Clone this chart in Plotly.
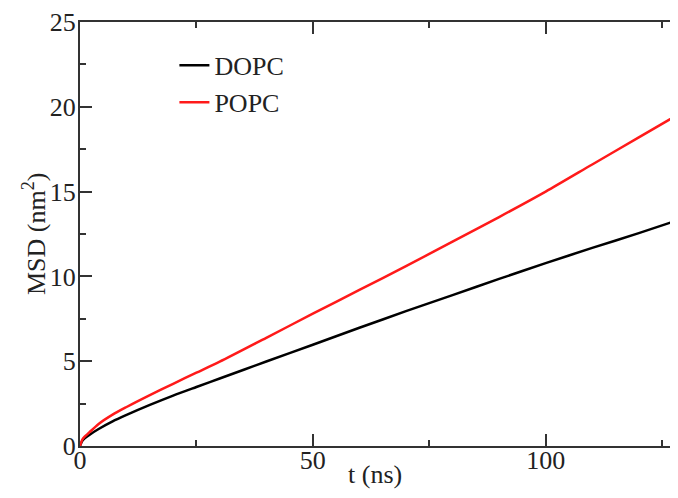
import plotly.graph_objects as go

t = [0, 0.5, 1, 2, 4, 7, 10, 15, 20, 25, 30, 40, 50, 60, 70, 80, 90, 100, 110, 120, 128.2]
dopc = [0, 0.3, 0.45, 0.65, 1.0, 1.45, 1.83, 2.42, 2.97, 3.48, 3.98, 4.98, 5.97, 6.97, 7.95, 8.9, 9.85, 10.78, 11.68, 12.55, 13.3]
popc = [0, 0.38, 0.55, 0.8, 1.3, 1.85, 2.3, 3.0, 3.67, 4.32, 4.97, 6.38, 7.8, 9.2, 10.6, 12.05, 13.5, 15.0, 16.6, 18.2, 19.5]

font = "Liberation Serif, Times New Roman, serif"
fs = 26

fig = go.Figure()
fig.add_trace(go.Scatter(x=t, y=dopc, mode="lines", name="DOPC",
                         line=dict(color="black", width=2.5, shape="spline", smoothing=0.8)))
fig.add_trace(go.Scatter(x=t, y=popc, mode="lines", name="POPC",
                         line=dict(color="#ff1a1a", width=2.5, shape="spline", smoothing=0.8)))

fig.update_layout(
    width=662, height=482,
    margin=dict(l=72, r=0, t=14, b=44),
    paper_bgcolor="white", plot_bgcolor="white",
    font=dict(family=font, size=fs, color="#222"),
    showlegend=True,
    legend=dict(x=0.16, y=0.953, xanchor="left", yanchor="top",
                bgcolor="rgba(0,0,0,0)", font=dict(size=fs, family=font),
                itemwidth=30, tracegroupgap=0),
    xaxis=dict(range=[0, 126.7], dtick=50, tick0=0, ticks="inside", ticklen=12,
               tickwidth=1.5, tickcolor="#333", showline=True, linecolor="#333",
               linewidth=2, mirror="ticks", showgrid=False, zeroline=False,
               automargin=False, ticklabelstandoff=-10, ticklabeloverflow="allow",
               tickfont=dict(size=fs, family=font),
               minor=dict(dtick=25, ticks="inside", ticklen=6, tickcolor="#333", tickwidth=1.5)),
    yaxis=dict(range=[0, 25], dtick=5, tick0=0, ticks="inside", ticklen=12,
               tickwidth=1.5, tickcolor="#333", showline=True, linecolor="#333",
               linewidth=2, showgrid=False, zeroline=False, automargin=False,
               ticklabelstandoff=-3, ticklabeloverflow="allow",
               tickfont=dict(size=fs, family=font),
               minor=dict(dtick=2.5, ticks="inside", ticklen=6, tickcolor="#333", tickwidth=1.5)),
    annotations=[
        dict(text="t (ns)", xref="paper", yref="paper", x=0.5, y=0,
             yshift=-28, xanchor="center", yanchor="middle", showarrow=False,
             font=dict(size=fs, family=font, color="#222")),
        dict(text="MSD (nm<sup>2</sup>)", xref="paper", yref="paper", x=0, y=0.5,
             xshift=-46, xanchor="center", yanchor="middle", showarrow=False, textangle=-90,
             font=dict(size=fs, family=font, color="#222")),
    ],
)

fig.write_html("out.html")
